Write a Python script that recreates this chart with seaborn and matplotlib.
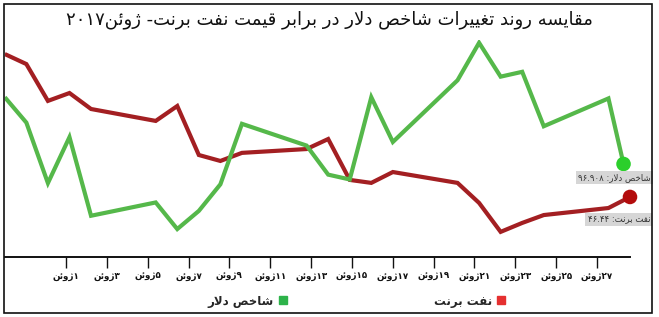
import re
import numpy as np
import pandas as pd
import matplotlib
matplotlib.use("Agg")
import matplotlib.pyplot as plt
import seaborn as sns
from matplotlib.patches import Rectangle
from matplotlib.lines import Line2D

# ---------------- data ----------------
title_text = "مقایسه روند تغییرات شاخص دلار در برابر قیمت نفت برنت- ژوئن۲۰۱۷"
days = [-2, -1, 0, 1, 2, 5, 6, 7, 8, 9, 12, 13, 14, 15, 16, 19, 20, 21, 22, 23, 26, 27]
brent = [53.15, 52.68, 50.95, 51.32, 50.57, 50.01, 50.71, 48.41, 48.13, 48.51,
         48.69, 49.16, 47.24, 47.10, 47.61, 47.10, 46.16, 44.80, 45.22, 45.59,
         45.92, 46.44]
dollar_days = [-2, -1, 0, 1, 2, 5, 6, 7, 8, 9, 12, 13, 14, 15, 16, 19, 20, 21, 22, 23, 26, 26.7]
dollar = [97.46, 97.25, 96.75, 97.13, 96.48, 96.59, 96.37, 96.52, 96.74, 97.24,
          97.06, 96.82, 96.78, 97.46, 97.09, 97.60, 97.91, 97.63, 97.67, 97.22,
          97.45, 96.908]
tick_labels = ["۱ژوئن", "۳ژوئن", "۵ژوئن", "۷ژوئن", "۹ژوئن", "۱۱ژوئن", "۱۳ژوئن",
               "۱۵ژوئن", "۱۷ژوئن", "۱۹ژوئن", "۲۱ژوئن", "۲۳ژوئن", "۲۵ژوئن", "۲۷ژوئن"]
dollar_name = "شاخص دلار"
brent_name = "نفت برنت"
dollar_last = "شاخص دلار: ۹۶.۹۰۸"
brent_last = "نفت برنت: ۴۶.۴۴"

# ---------------- Persian shaping ----------------
FORMS = {
    '\u0627': ('\uFE8D', '\uFE8E', None, None),
    '\u0628': ('\uFE8F', '\uFE90', '\uFE91', '\uFE92'),
    '\u062A': ('\uFE95', '\uFE96', '\uFE97', '\uFE98'),
    '\u062E': ('\uFEA5', '\uFEA6', '\uFEA7', '\uFEA8'),
    '\u062F': ('\uFEA9', '\uFEAA', None, None),
    '\u0631': ('\uFEAD', '\uFEAE', None, None),
    '\u0632': ('\uFEAF', '\uFEB0', None, None),
    '\u0698': ('\uFB8A', '\uFB8B', None, None),
    '\u0633': ('\uFEB1', '\uFEB2', '\uFEB3', '\uFEB4'),
    '\u0634': ('\uFEB5', '\uFEB6', '\uFEB7', '\uFEB8'),
    '\u0635': ('\uFEB9', '\uFEBA', '\uFEBB', '\uFEBC'),
    '\u063A': ('\uFECD', '\uFECE', '\uFECF', '\uFED0'),
    '\u0641': ('\uFED1', '\uFED2', '\uFED3', '\uFED4'),
    '\u0642': ('\uFED5', '\uFED6', '\uFED7', '\uFED8'),
    '\u0644': ('\uFEDD', '\uFEDE', '\uFEDF', '\uFEE0'),
    '\u0645': ('\uFEE1', '\uFEE2', '\uFEE3', '\uFEE4'),
    '\u0646': ('\uFEE5', '\uFEE6', '\uFEE7', '\uFEE8'),
    '\u0647': ('\uFEE9', '\uFEEA', '\uFEEB', '\uFEEC'),
    '\u0648': ('\uFEED', '\uFEEE', None, None),
    '\u06CC': ('\uFEEF', '\uFEF0', '\uFEF3', '\uFEF4'),
    '\u0626': ('\uFE89', '\uFE8A', '\uFE8B', '\uFE8C'),
}


def shape(s):
    out = []
    n = len(s)
    i = 0
    while i < n:
        c = s[i]
        if c not in FORMS:
            out.append(c)
            i += 1
            continue
        prev = s[i - 1] if i > 0 else None
        jp = prev in FORMS and FORMS[prev][2] is not None
        if c == '\u0644' and i + 1 < n and s[i + 1] == '\u0627':
            out.append('\uFEFC' if jp else '\uFEFB')
            i += 2
            continue
        nxt = s[i + 1] if i + 1 < n else None
        jn = FORMS[c][2] is not None and nxt in FORMS
        iso, fin, ini, med = FORMS[c]
        out.append(med if (jp and jn) else fin if jp else ini if jn else iso)
        i += 1
    return ''.join(out)


NUM = r'[۰-۹0-9]+(?:\.[۰-۹0-9]+)*'


def rtl(s):
    shaped = shape(s)
    parts = re.split('(' + NUM + ')', shaped)
    vis = []
    for p in reversed(parts):
        if p == '':
            continue
        vis.append(p if re.fullmatch(NUM, p) else p[::-1])
    return ''.join(vis)


# ---------------- figure ----------------
sns.set_theme(style="white")
plt.rcParams['font.family'] = ['DejaVu Sans']

W, H = 659, 317
fig = plt.figure(figsize=(W / 100, H / 100), dpi=100)
fig.patch.set_facecolor('white')

x0, x1 = 4.8, 630.0
ytop, ybot = 40.0, 257.0
ax = fig.add_axes([x0 / W, (H - ybot) / H, (x1 - x0) / W, (ybot - ytop) / H])
ax2 = ax.twinx()

red_line = '#a31f22'
green_line = '#55b84a'

df_b = pd.DataFrame({'day': days, 'value': brent})
df_d = pd.DataFrame({'day': dollar_days, 'value': dollar})

sns.lineplot(data=df_b, x='day', y='value', ax=ax, color=red_line, linewidth=3.0,
             solid_joinstyle='miter', solid_capstyle='butt')
sns.lineplot(data=df_d, x='day', y='value', ax=ax2, color=green_line, linewidth=3.0,
             solid_joinstyle='miter', solid_capstyle='butt')

ax.scatter([days[-1]], [brent[-1]], s=110, color='#b30c0c', zorder=5, clip_on=False,
           edgecolors='none')
ax2.scatter([dollar_days[-1]], [dollar[-1]], s=110, color='#2bcf2b', zorder=5,
            clip_on=False, edgecolors='none')

ax.set_xlim(-2, 27)
ax.set_ylim(43.62, 53.81)
ax2.set_ylim(96.139, 97.933)

for a in (ax, ax2):
    a.set_xlabel('')
    a.set_ylabel('')
    a.set_yticks([])
    for sp in ('left', 'right', 'top'):
        a.spines[sp].set_visible(False)
ax2.spines['bottom'].set_visible(False)
ax.spines['bottom'].set_linewidth(1.4)
ax.spines['bottom'].set_color('#111111')

tick_pos = np.linspace(0.84, 25.47, len(tick_labels))
ax.set_xticks(tick_pos)
ax.set_xticklabels([rtl(t) for t in tick_labels], fontsize=6.3, fontweight='bold',
                   color='#111111')
ax.tick_params(axis='x', direction='out', length=8, width=1.0, color='#111111',
               pad=2.5, bottom=True)
ax2.tick_params(axis='x', bottom=False, labelbottom=False)

# end labels
ax2.annotate(rtl(dollar_last), xy=(dollar_days[-1], dollar[-1]), xytext=(27, -13.5),
             textcoords='offset pixels', ha='right', va='center', fontsize=6.2,
             color='#333333', annotation_clip=False, zorder=6,
             bbox=dict(boxstyle='square,pad=0.25', fc='#d6d6d6', ec='none'))
ax.annotate(rtl(brent_last), xy=(days[-1], brent[-1]), xytext=(20, -22.5),
            textcoords='offset pixels', ha='right', va='center', fontsize=6.2,
            color='#333333', annotation_clip=False, zorder=6,
            bbox=dict(boxstyle='square,pad=0.25', fc='#d6d6d6', ec='none'))

# title
fig.text(0.5, 1 - 20 / H, rtl(title_text), ha='center', va='center', fontsize=13,
         color='#111111')

# legend
handles = [
    Line2D([], [], marker='s', ls='', color='#2db34a', markersize=5.5, label=rtl(dollar_name)),
    Line2D([], [], marker='s', ls='', color='#e53030', markersize=5.5, label=rtl(brent_name)),
]
fig.legend(handles=handles, loc='center', bbox_to_anchor=(357 / W, 1 - 301 / H), ncol=2,
           frameon=False, markerfirst=False, columnspacing=12.3, handletextpad=0.25,
           handlelength=1.0, prop=dict(weight='bold', size=8.5))

# outer frame
fig.add_artist(Rectangle((4 / W, 4 / H), 648 / W, 309 / H, transform=fig.transFigure,
                         fill=False, ec='#111111', lw=1.2))

fig.savefig('out.png', dpi=100)
